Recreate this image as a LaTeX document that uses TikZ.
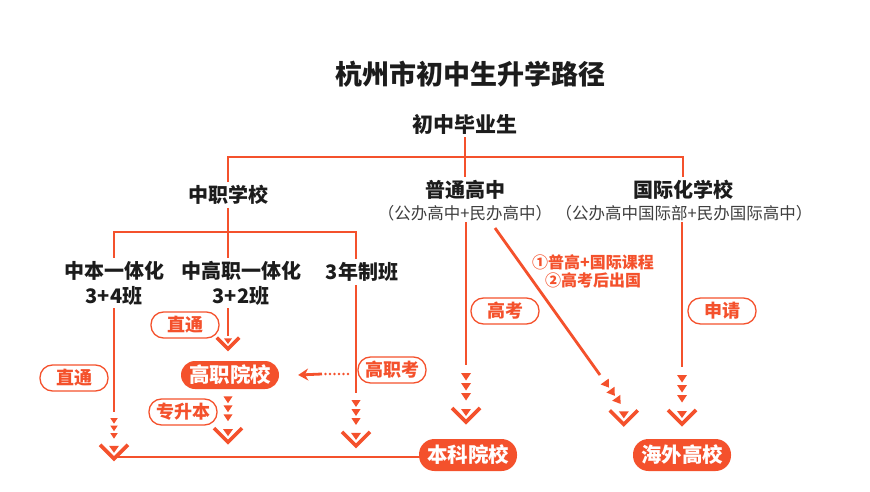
\documentclass[tikz,border=0pt]{standalone}
\usepackage{fontspec}
\setmainfont{Noto Sans CJK SC}
\usetikzlibrary{arrows.meta}
\definecolor{hzred}{HTML}{F4512C}
\definecolor{ink}{HTML}{1C1C1C}
\tikzset{
  link/.style={draw=hzred, line width=2.8pt},
  dots/.style={draw=hzred, line width=2.8pt, line cap=round, dash pattern=on 0pt off 4.5pt},
  lbl/.style={text=ink, font=\bfseries\fontsize{20}{25}\selectfont, align=center, inner sep=3pt},
  sublbl/.style={text=ink!85, font=\fontsize{16.5}{18}\selectfont, inner sep=1pt},
  tag/.style={draw=hzred, line width=1.3pt, rounded corners=12.5pt, text=hzred,
    font=\bfseries\fontsize{18}{19}\selectfont, minimum width=68pt, minimum height=26pt,
    inner xsep=6pt, inner ysep=0pt},
  school/.style={fill=hzred, rounded corners=15.5pt, text=white,
    font=\bfseries\fontsize{20.5}{21}\selectfont, minimum width=96pt, minimum height=32pt,
    inner xsep=8pt, inner ysep=0pt},
  chev/.pic={
    \draw[hzred, line width=3.6pt] (-14,2) -- (0,16) -- (14,2);
    \fill[hzred] (-5,3) -- (5,3) -- (0,10) -- cycle;
  },
  dotarrow/.pic={
    \foreach \t in {8,18,28}
      \fill[hzred] (-5,\t) -- (5,\t) -- (0,\t+7.5) -- cycle;
    \pic at (0,41) {chev};
  },
}
\begin{document}
\begin{tikzpicture}[x=1pt, y=-1pt]
  \useasboundingbox (0,0) rectangle (870,492);
  \node[text=ink, font=\bfseries\fontsize{27}{29}\selectfont] (title) at (470,74) {杭州市初中生升学路径};
  \node[lbl, font=\bfseries\fontsize{21}{24}\selectfont] (grad) at (465,124) {初中毕业生};

  \node[lbl] (zhongzhi) at (228,195) {中职学校};
  \node[lbl] (putong) at (465,190) {普通高中};
  \node[sublbl] (putongsub) at (465,213) {（公办高中+民办高中）};
  \node[lbl] (guoji) at (683,190) {国际化学校};
  \node[sublbl] (guojisub) at (684,213) {（公办高中国际部+民办国际高中）};

  \node[lbl] (zbyt) at (114,283) {中本一体化\\3+4班};
  \node[lbl] (zgzyt) at (241,283) {中高职一体化\\3+2班};
  \node[lbl] (snz) at (362,272) {3年制班};

  \node[school, minimum height=28pt, rounded corners=14pt] (gaozhi) at (230,375) {高职院校};
  \node[school] (benke) at (468,455) {本科院校};
  \node[school] (haiwai) at (682,455) {海外高校};

  \node[tag] (zt1) at (74,378) {直通};
  \node[tag] (zt2) at (185,325) {直通};
  \node[tag] (zsb) at (183,412) {专升本};
  \node[tag] (gzk) at (392,370) {高职考};
  \node[tag] (gk) at (505,311) {高考};
  \node[tag] (sq) at (722,311) {申请};
  \node[text=hzred, font=\bfseries\fontsize{16}{18}\selectfont, align=center] (route) at (593,271) {①普高+国际课程\\②高考后出国};

  \coordinate (bar1) at (465,157);
  \coordinate (bar2) at (228,232);
  \coordinate (a1) at (114,412);
  \coordinate (a2) at (228,336);
  \coordinate (a3) at (356,393);
  \coordinate (a4) at (466,365);
  \coordinate (a5) at (682,367);
  \coordinate (d0) at (495,228);
  \coordinate (d1) at (600,375);
  \coordinate (corner) at (114,457);
  \coordinate (g1) at (348,374);
  \coordinate (g2) at (322,374);

  \draw[link] (grad) -- (bar1);
  \draw[link] (zhongzhi.north) |- (bar1) -| (guoji.north);
  \draw[link] (bar1) -- (putong.north);

  \draw[link] (zhongzhi) -- (bar2);
  \draw[link] (zbyt.north) |- (bar2) -| (snz.north -| a3);
  \draw[link] (bar2) -- (bar2 |- zgzyt.north);

  \draw[link] (zbyt.south -| a1) -- (a1);
  \pic[scale=.75] at (a1) {dotarrow};
  \draw[link] (corner) -- (benke.west |- corner);

  \draw[link] (bar2 |- zgzyt.south) -- (a2);
  \pic[scale=.8] at (a2) {chev};
  \pic[scale=.9] at (gaozhi.south -| bar2) {dotarrow};

  \draw[link] (snz.south -| a3) -- (a3);
  \pic[scale=.9] at (a3) {dotarrow};
  \draw[dots] (g1) -- (g2);
  \draw[link, -{Stealth[length=10pt, width=12pt]}] (g2) -- ([xshift=19pt]gaozhi.east);

  \draw[link] (putongsub.south -| a4) -- (a4);
  \pic at (a4) {dotarrow};
  \draw[link] (guojisub.south -| a5) -- (a5);
  \pic at (a5) {dotarrow};
  \draw[link] (d0) -- (d1);
  \pic[rotate=35.5] at (d1) {dotarrow};
\end{tikzpicture}
\end{document}
